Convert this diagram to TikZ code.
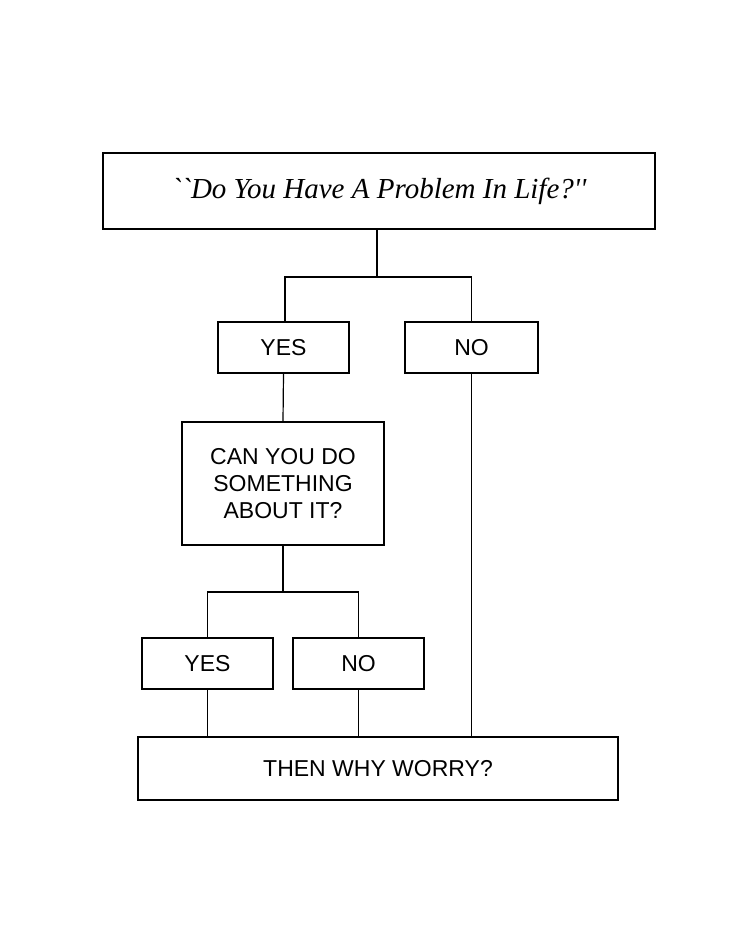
\documentclass[tikz,border=0pt]{standalone}
\usepackage{fontspec}
\setmainfont{Liberation Sans}
\newfontfamily\quotefont{Liberation Serif}
\begin{document}
\begin{tikzpicture}[x=1pt,y=-1pt,
  box/.style={draw,line width=1.2pt,inner sep=0pt,align=center,font=\fontsize{23}{27}\selectfont},
  link/.style={line width=1.2pt}]
\useasboundingbox (0,0) rectangle (736,937);

% question boxes
\node[box,minimum width=552pt,minimum height=76pt,font=\quotefont\itshape\fontsize{29}{34}\selectfont] (problem) at (379,191) {``Do You Have A Problem In Life?''};
\node[box,minimum width=131pt,minimum height=51pt] (yesA) at (283.5,347.5) {YES};
\node[box,minimum width=133pt,minimum height=51pt] (noA) at (471.5,347.5) {NO};
\node[box,minimum width=202pt,minimum height=123pt] (cando) at (283,483.5) {CAN YOU DO\\SOMETHING\\ABOUT IT?};
\node[box,minimum width=131pt,minimum height=51pt] (yesB) at (207.5,663.5) {YES};
\node[box,minimum width=131pt,minimum height=51pt] (noB) at (358.5,663.5) {NO};
\node[box,minimum width=480pt,minimum height=63pt] (worry) at (378,768.5) {THEN WHY WORRY?};

% connectors
\coordinate (splitA) at (377,277);
\coordinate (splitB) at (283,592);
\draw[link] (problem.south -| splitA) -- (splitA);
\draw[link] (yesA.north -| 285,0) |- (splitA) -| (noA.north);
\draw[link] (yesA.south) -- (cando.north);
\draw[link] (cando.south) -- (splitB);
\draw[link] (yesB.north) |- (splitB) -| (noB.north);
\draw[link] (yesB.south) -- (yesB.south |- worry.north);
\draw[link] (noB.south) -- (noB.south |- worry.north);
\draw[link] (noA.south) -- (noA.south |- worry.north);
\end{tikzpicture}
\end{document}
